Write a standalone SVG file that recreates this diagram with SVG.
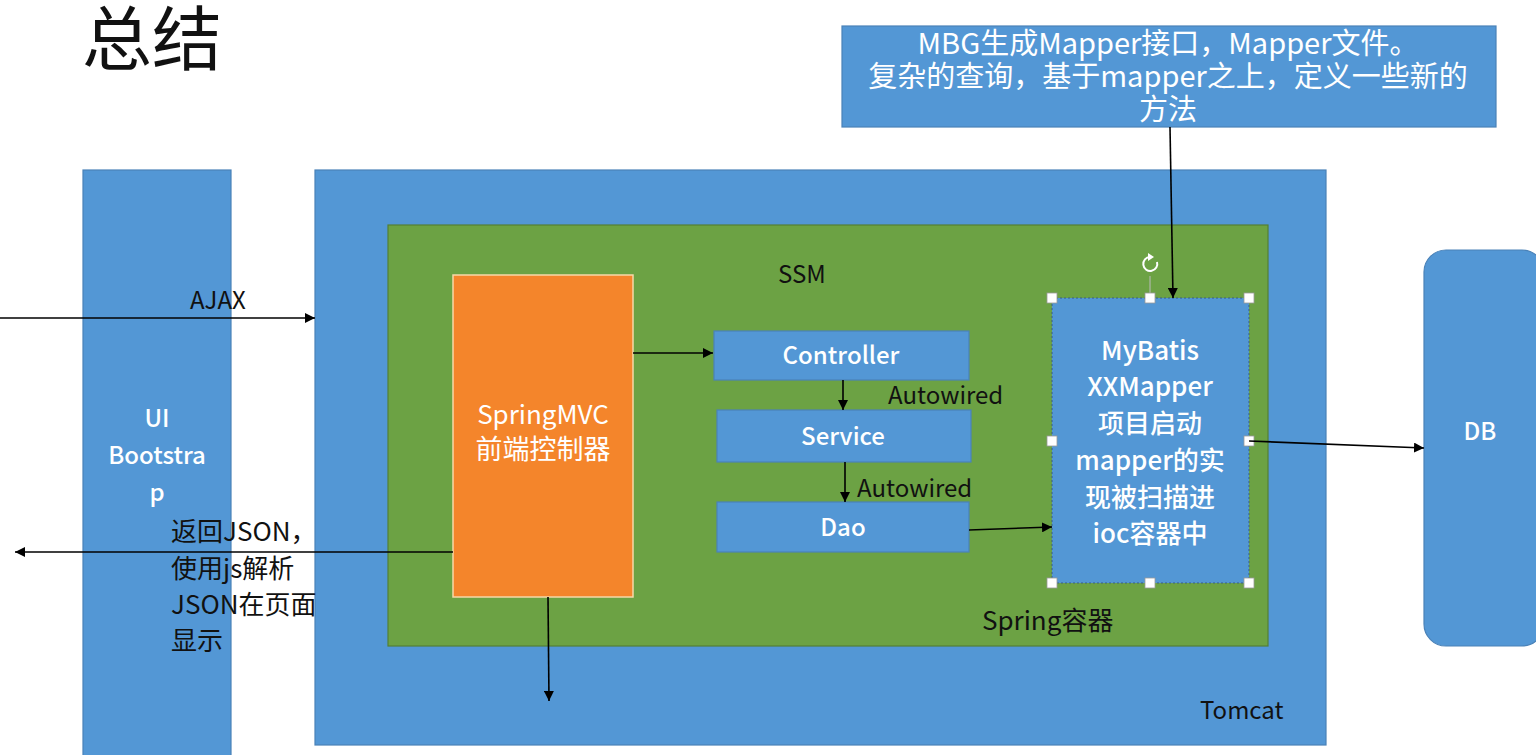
<svg xmlns="http://www.w3.org/2000/svg" width="1536" height="755" viewBox="0 0 1536 755">
<defs>
<marker id="ah" viewBox="0 0 10 10" refX="10" refY="5" markerWidth="10" markerHeight="10" markerUnits="userSpaceOnUse" orient="auto">
<path d="M0,0 L10,5 L0,10 z" fill="#000"/>
</marker>
</defs>
<style>
text{font-family:"Noto Sans CJK SC","Noto Sans",sans-serif}
.blue{fill:#5397d5;stroke:#4a82b8;stroke-width:1.2}
.w{fill:#fff;font-size:24px;text-anchor:middle;font-weight:500}
.m{fill:#fff;font-size:26px;text-anchor:middle;font-weight:500}
.k{fill:#111;font-size:24px}
.c{stroke:#000;stroke-width:1.6;fill:none;marker-end:url(#ah)}
.h{fill:#fff;stroke:#999;stroke-width:0.8}
</style>
<rect width="1536" height="755" fill="#fff"/>
<g id="title"><text x="82" y="65" style="font-size:70px;fill:#111">总结</text></g>
<g id="ui">
<rect class="blue" x="83" y="170" width="148" height="590"/>
<text class="w" x="157" y="427">UI</text>
<text class="w" x="157" y="464">Bootstra</text>
<text class="w" x="157" y="501">p</text>
</g>
<g id="tomcat">
<rect class="blue" x="315" y="170" width="1011" height="575"/>
<text class="k" x="1200" y="719">Tomcat</text>
</g>
<g id="spring">
<rect x="388" y="225" width="880" height="421" fill="#6ca244" stroke="#547f35" stroke-width="1.2"/>
<text class="k" x="778" y="283">SSM</text>
<text class="k" x="982" y="630" style="font-size:26px">Spring容器</text>
</g>
<g id="springmvc">
<rect x="453" y="275" width="180" height="322" fill="#f4852b" stroke="#f6d9a8" stroke-width="1.5"/>
<text class="w" x="543" y="424" style="font-size:26px;font-weight:400">SpringMVC</text>
<text class="w" x="543" y="459" style="font-size:27px;font-weight:400">前端控制器</text>
</g>
<g id="controller">
<rect class="blue" x="714" y="331" width="255" height="49"/>
<text class="w" x="841" y="364">Controller</text>
</g>
<g id="service">
<rect class="blue" x="717" y="410" width="254" height="52"/>
<text class="w" x="843" y="445">Service</text>
</g>
<g id="dao">
<rect class="blue" x="717" y="502" width="252" height="50"/>
<text class="w" x="843" y="536">Dao</text>
</g>
<g id="mybatis">
<rect x="1052" y="298" width="197" height="285" fill="#5397d5" stroke="#3a5f85" stroke-width="1" stroke-dasharray="2,2"/>
<text class="m" x="1150" y="360">MyBatis</text>
<text class="m" x="1150" y="396">XXMapper</text>
<text class="m" x="1150" y="433">项目启动</text>
<text class="m" x="1150" y="470">mapper的实</text>
<text class="m" x="1150" y="507">现被扫描进</text>
<text class="m" x="1150" y="543">ioc容器中</text>
<line x1="1150" y1="276" x2="1150" y2="298" stroke="#bbb" stroke-width="1"/>
<path d="M1157,262 A7,7 0 1 1 1150,257" fill="none" stroke="#fff" stroke-width="2"/>
<path d="M1148,253 L1154,257 L1148,261 z" fill="#fff"/>
<rect class="h" x="1047" y="293" width="10" height="10"/>
<rect class="h" x="1145" y="293" width="10" height="10"/>
<rect class="h" x="1244" y="293" width="10" height="10"/>
<rect class="h" x="1047" y="436" width="10" height="10"/>
<rect class="h" x="1244" y="436" width="10" height="10"/>
<rect class="h" x="1047" y="578" width="10" height="10"/>
<rect class="h" x="1145" y="578" width="10" height="10"/>
<rect class="h" x="1244" y="578" width="10" height="10"/>
</g>
<g id="db">
<rect class="blue" x="1424" y="250" width="120" height="396" rx="22"/>
<text class="w" x="1480" y="440">DB</text>
</g>
<g id="mbg">
<rect class="blue" x="842" y="26" width="654" height="101"/>
<text class="w" x="1168" y="54" style="font-size:29px;font-weight:400">MBG生成Mapper接口，Mapper文件。</text>
<text class="w" x="1168" y="87" style="font-size:29px;font-weight:400">复杂的查询，基于mapper之上，定义一些新的</text>
<text class="w" x="1168" y="120" style="font-size:29px;font-weight:400">方法</text>
</g>
<g id="connectors">
<line class="c" x1="0" y1="318" x2="315" y2="318"/>
<line class="c" x1="453" y1="552" x2="15" y2="552"/>
<line class="c" x1="633" y1="353" x2="713" y2="353"/>
<line class="c" x1="843" y1="380" x2="843" y2="410"/>
<line class="c" x1="845" y1="462" x2="845" y2="502"/>
<line class="c" x1="969" y1="530" x2="1052" y2="527"/>
<line class="c" x1="1249" y1="441" x2="1424" y2="448"/>
<line class="c" x1="1170" y1="127" x2="1173" y2="298"/>
<line class="c" x1="548" y1="597" x2="549" y2="701"/>
<text class="k" x="190" y="309">AJAX</text>
<text class="k" x="888" y="404">Autowired</text>
<text class="k" x="857" y="497">Autowired</text>
<text class="k" x="171" y="541" style="font-size:26px">返回JSON，</text>
<text class="k" x="171" y="578" style="font-size:26px">使用js解析</text>
<text class="k" x="171" y="614" style="font-size:26px">JSON在页面</text>
<text class="k" x="171" y="650" style="font-size:26px">显示</text>
</g>
</svg>
